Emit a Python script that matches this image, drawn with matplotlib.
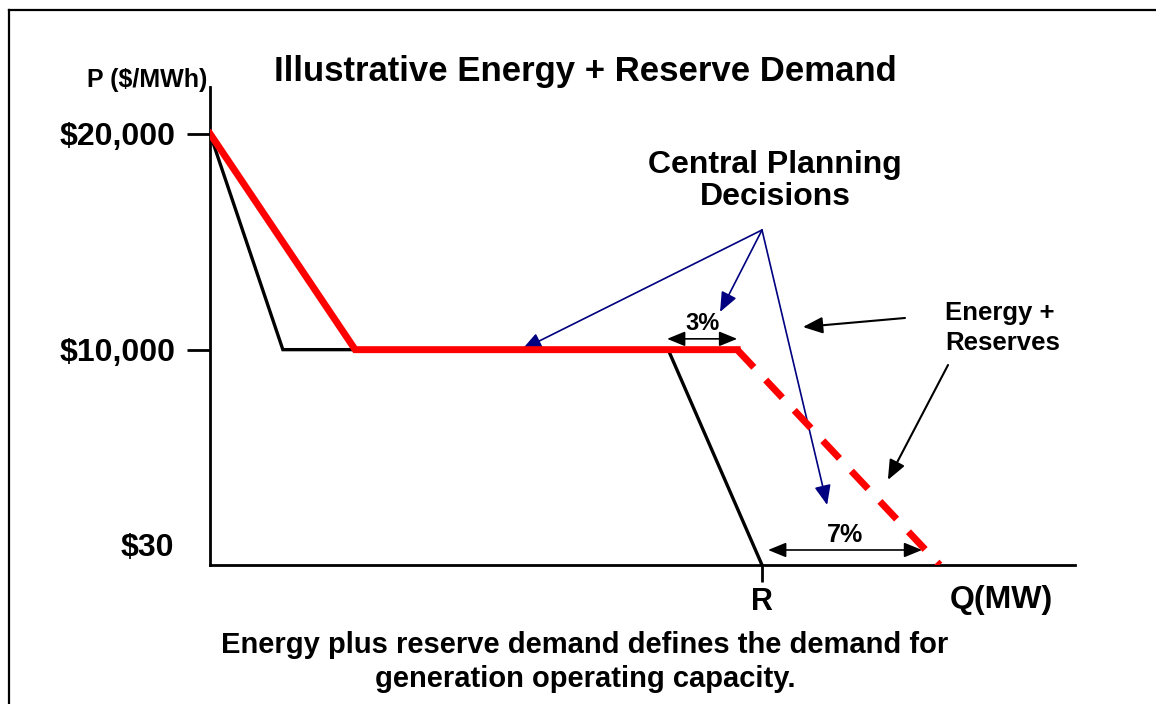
import matplotlib
matplotlib.use("Agg")
import matplotlib.pyplot as plt
from matplotlib.lines import Line2D

plt.rcParams['font.family'] = ['Liberation Sans', 'DejaVu Sans']
plt.rcParams['font.weight'] = 'bold'

# demand curves (Q in arbitrary MW units, R = 100)
energy_q = [0, 13.2, 26.3, 83.0, 100.0]
energy_p = [20000, 10000, 10000, 10000, 30]
reserve_q = [0, 26.3, 95.5]
reserve_p = [20000, 10000, 10000]
reserve_dash_q = [95.5, 132.2]
reserve_dash_p = [10000, 30]

ytick_vals = [10000, 20000]
ytick_labels = ['$10,000', '$20,000']
xtick_vals = [100]
xtick_labels = ['R']

navy = '#000080'

fig = plt.figure(figsize=(11.56, 7.04), dpi=100)
ax = fig.add_axes([210/1156, 139/704, 865/1156, 478/704])
ax.set_xlim(0, 156.7)
ax.set_ylim(30, 22160)

ax.spines['top'].set_visible(False)
ax.spines['right'].set_visible(False)
ax.spines['left'].set_linewidth(2)
ax.spines['bottom'].set_linewidth(2)

ax.set_yticks(ytick_vals)
ax.set_yticklabels(ytick_labels, fontsize=23, fontweight='bold')
ax.tick_params(axis='y', length=16.5, width=2, pad=8)
ax.set_xticks(xtick_vals)
ax.set_xticklabels(xtick_labels, fontsize=22, fontweight='bold')
ax.tick_params(axis='x', length=12, width=2, pad=4)
ax.text(-6.5, 820, '$30', ha='right', va='center', fontsize=23,
        fontweight='bold', clip_on=False)

ax.plot(energy_q, energy_p, color='black', lw=2.4, zorder=3,
        solid_joinstyle='miter')
ax.plot(reserve_q, reserve_p, color='red', lw=5, zorder=4,
        solid_joinstyle='miter')
ax.plot(reserve_dash_q, reserve_dash_p, color='red', lw=5, zorder=4,
        dashes=(3.5, 2.5), dash_capstyle='butt')

# central planning arrows
src = (100, 15540)
for tgt in [(56.5, 10000), (92.4, 11744), (111.8, 2808)]:
    ax.annotate('', xy=tgt, xytext=src, annotation_clip=False,
                arrowprops=dict(arrowstyle='-|>,head_length=1.2,head_width=0.5',
                                color=navy, lw=1.2, shrinkA=0, shrinkB=0))
ax.text(102.4, 17810, 'Central Planning\nDecisions', ha='center', va='center',
        fontsize=23, fontweight='bold', linespacing=1.12)

# energy + reserves labels
for tail, head in [((125.9, 11466), (107.4, 11049)),
                   ((133.7, 9290), (122.8, 3966))]:
    ax.annotate('', xy=head, xytext=tail, annotation_clip=False,
                arrowprops=dict(arrowstyle='-|>,head_length=1.2,head_width=0.5',
                                color='black', lw=1.5, shrinkA=0, shrinkB=0))
ax.text(133.2, 11003, 'Energy +\nReserves', ha='left', va='center',
        fontsize=18.5, fontweight='bold', linespacing=1.35)

# 3% and 7% gaps
ax.annotate('', xy=(95.5, 10500), xytext=(82.8, 10500),
            arrowprops=dict(arrowstyle='<|-|>,head_length=1.1,head_width=0.45',
                            color='black', lw=1.2, shrinkA=0, shrinkB=0))
ax.text(89.3, 11200, '3%', ha='center', va='center', fontsize=17,
        fontweight='bold')
ax.annotate('', xy=(129.0, 725), xytext=(101.1, 725),
            arrowprops=dict(arrowstyle='<|-|>,head_length=1.1,head_width=0.45',
                            color='black', lw=1.2, shrinkA=0, shrinkB=0))
ax.text(115.0, 1420, '7%', ha='center', va='center', fontsize=18,
        fontweight='bold')

ax.text(143.4, -1590, 'Q(MW)', ha='center', va='center', fontsize=23,
        fontweight='bold', clip_on=False)

fig.text(207/1156, 1 - 80/704, 'P ($/MWh)', ha='right', va='center',
         fontsize=18, fontweight='bold')
fig.text(585/1156, 1 - 71/704, 'Illustrative Energy + Reserve Demand',
         ha='center', va='center', fontsize=25, fontweight='bold')
fig.text(585/1156, 1 - 662/704,
         'Energy plus reserve demand defines the demand for\ngeneration operating capacity.',
         ha='center', va='center', fontsize=21, fontweight='bold',
         linespacing=1.25)

# outer frame
fig.add_artist(Line2D([9/1156, 1], [1 - 10/704, 1 - 10/704], color='black', lw=1.6))
fig.add_artist(Line2D([9/1156, 9/1156], [0, 1 - 10/704], color='black', lw=1.6))

fig.savefig('out.png', dpi=100)
